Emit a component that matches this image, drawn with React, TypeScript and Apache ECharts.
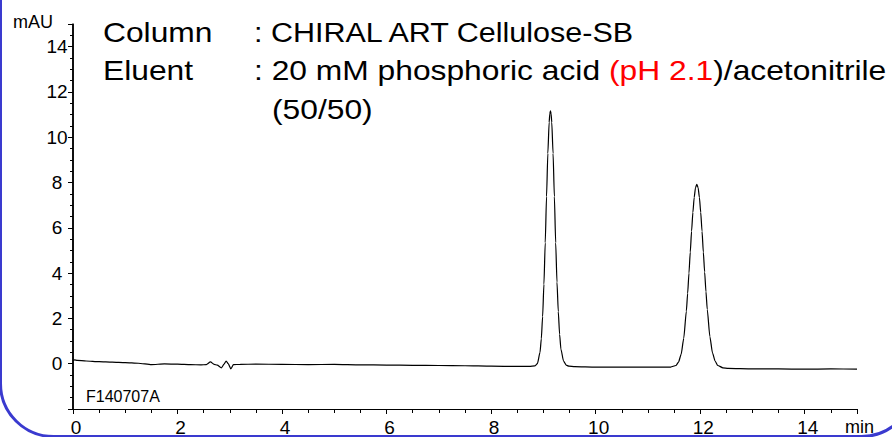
import React, { useEffect, useRef } from "react";
import * as echarts from "echarts";

// Retention time (min) and detector signal (mAU)
const traceTime: number[] = [
  0, 0.03, 0.08, 0.25, 0.5, 0.75, 1.0, 1.25, 1.5, 1.75,
  2.0, 2.25, 2.45, 2.55, 2.63, 2.7, 2.76, 2.84, 2.89, 2.93,
  2.97, 3.02, 3.07, 3.2, 3.5, 4.0, 4.5, 5.0, 5.5, 6.0,
  6.5, 7.0, 7.5, 8.0, 8.5,
  8.735, 8.835, 8.885, 8.935, 8.96, 8.985, 9.01, 9.035, 9.06, 9.085,
  9.11, 9.1225, 9.135, 9.1475, 9.16, 9.185, 9.21, 9.235, 9.26, 9.285,
  9.31, 9.335, 9.385, 9.435, 9.485, 9.6,
  10.0, 10.5, 11.0, 11.435,
  11.535, 11.585, 11.635, 11.685, 11.735, 11.76, 11.785, 11.81, 11.835, 11.86,
  11.885, 11.91, 11.935, 11.96, 11.985, 12.01, 12.035, 12.06, 12.085, 12.11,
  12.135, 12.185, 12.235, 12.285, 12.335, 12.435, 12.535,
  13.0, 13.5, 14.0, 14.5, 15.0,
];
const traceMAU: number[] = [
  0.14, 0.17, 0.15, 0.12, 0.09, 0.07, 0.05, 0.02, -0.04, -0.01,
  -0.02, -0.04, -0.05, -0.04, 0.08, -0.03, -0.06, -0.18, -0.02, 0.12,
  0.0, -0.23, -0.04, -0.03, -0.02, -0.03, -0.04, -0.03, -0.05, -0.06,
  -0.07, -0.08, -0.09, -0.11, -0.12,
  -0.12, -0.1, 0.0, 0.5, 1.1, 2.08, 3.51, 5.34, 7.38, 9.29,
  10.66, 11.03, 11.16, 11.03, 10.66, 9.29, 7.38, 5.34, 3.6, 2.3,
  1.3, 0.65, 0.12, -0.06, -0.11, -0.13,
  -0.15, -0.15, -0.15, -0.15,
  -0.08, 0.07, 0.41, 1.12, 2.32, 3.11, 4.0, 4.93, 5.85, 6.68,
  7.34, 7.77, 7.92, 7.77, 7.34, 6.68, 5.85, 4.93, 4.05, 3.18,
  2.4, 1.2, 0.48, 0.12, -0.08, -0.18, -0.21,
  -0.23, -0.23, -0.24, -0.23, -0.24,
];

const xLabelValues: number[] = [0, 2, 4, 6, 8, 10, 12, 14];
const yLabelValues: number[] = [0, 2, 4, 6, 8, 10, 12, 14];
const xRange: number[] = [0, 15];
const yRange: number[] = [-2, 15];

const FONT = "'Liberation Sans', Arial, Helvetica, sans-serif";
const BIG = 28;
const STRETCH = 1.135;

export default function App() {
  const ref = useRef<HTMLDivElement>(null);
  useEffect(() => {
    document.body.style.margin = "0";
    const chart = echarts.init(ref.current as HTMLDivElement, null, { renderer: "svg" });
    const data = traceTime.map((t, i) => [t, traceMAU[i]]);
    const bigStyle = { fontSize: BIG, fontFamily: FONT, fill: "#000" };
    chart.setOption({
      animation: false,
      backgroundColor: "#ffffff",
      grid: { left: 73, right: 35, top: 24, bottom: 26 },
      xAxis: [
        {
          type: "value", min: xRange[0], max: xRange[1], interval: 2, position: "bottom",
          axisLine: { show: true, onZero: false, lineStyle: { color: "#000", width: 1.2 } },
          axisTick: { length: 5, lineStyle: { color: "#000" } },
          axisLabel: {
            margin: 9, fontSize: 19, color: "#000", fontFamily: FONT, padding: [0, 0, 0, 6],
            formatter: (v: number) => (xLabelValues.includes(v) ? String(v) : ""),
          },
          splitLine: { show: false },
        },
        {
          type: "value", min: xRange[0], max: xRange[1], interval: 0.5, position: "bottom",
          axisLine: { show: false, onZero: false },
          axisTick: { length: 4, lineStyle: { color: "#000" } },
          axisLabel: { show: false },
          splitLine: { show: false },
        },
      ],
      yAxis: [
        {
          type: "value", min: yRange[0], max: yRange[1], interval: 2, position: "left",
          axisLine: { show: true, onZero: false, lineStyle: { color: "#000", width: 1.5 } },
          axisTick: { show: true, length: 5, lineStyle: { color: "#000" } },
          axisLabel: {
            margin: 16, align: "center", fontSize: 19, color: "#000", fontFamily: FONT,
            formatter: (v: number) => (yLabelValues.includes(v) ? String(v) : ""),
          },
          splitLine: { show: false },
        },
        {
          type: "value", min: yRange[0], max: yRange[1], interval: 0.5, position: "left",
          axisLine: { show: false, onZero: false },
          axisTick: { show: true, length: 3, lineStyle: { color: "#000" } },
          axisLabel: { show: false },
          splitLine: { show: false },
        },
      ],
      series: [
        {
          type: "line", data, xAxisIndex: 0, yAxisIndex: 0,
          symbol: "none", showSymbol: false,
          smooth: 0.2, smoothMonotone: "x",
          lineStyle: { color: "#000", width: 1.2 },
        },
      ],
      graphic: [
        {
          id: "frame", type: "rect", silent: true,
          shape: { x: 0.5, y: -120, width: 914, height: 556.5, r: 53 },
          style: { fill: "none", stroke: "#3a3acf", lineWidth: 3 },
        },
        { id: "mau", type: "text", x: 13, y: 22, style: { text: "mAU", fontSize: 18, fontFamily: FONT, fill: "#000", verticalAlign: "middle" } },
        { id: "min", type: "text", x: 845, y: 427, style: { text: "min", fontSize: 18, fontFamily: FONT, fill: "#000", verticalAlign: "middle" } },
        { id: "file", type: "text", x: 86, y: 396, style: { text: "F140707A", fontSize: 16, fontFamily: FONT, fill: "#000", verticalAlign: "middle" } },
        { id: "c1", type: "text", x: 103, y: 32, scaleX: STRETCH, style: { text: "Column", ...bigStyle, verticalAlign: "middle" } },
        { id: "c2", type: "text", x: 254, y: 32, scaleX: 1.09, style: { text: ": CHIRAL ART Cellulose-SB", ...bigStyle, verticalAlign: "middle" } },
        { id: "e1", type: "text", x: 103, y: 70, scaleX: STRETCH, style: { text: "Eluent", ...bigStyle, verticalAlign: "middle" } },
        {
          id: "e2", type: "text", x: 254, y: 70, scaleX: STRETCH,
          style: {
            text: "{k|: 20 mM phosphoric acid }{r|(pH 2.1}{k|)/acetonitrile}",
            verticalAlign: "middle",
            rich: {
              k: { fontSize: BIG, fontFamily: FONT, fill: "#000", color: "#000" },
              r: { fontSize: BIG, fontFamily: FONT, fill: "#ff0000", color: "#ff0000" },
            },
          },
        },
        { id: "e3", type: "text", x: 272, y: 109, scaleX: STRETCH, style: { text: "(50/50)", ...bigStyle, verticalAlign: "middle" } },
      ],
    });
    // y-axis line as a thin filled bar, placed through the chart's own scales, on top
    const pBottom = chart.convertToPixel({ xAxisIndex: 0, yAxisIndex: 0 }, [xRange[0], yRange[0]]) as number[];
    const pTop = chart.convertToPixel({ xAxisIndex: 0, yAxisIndex: 0 }, [xRange[0], yRange[1]]) as number[];
    if (pBottom && pTop) {
      chart.setOption({
        graphic: [
          {
            id: "yAxisBar", type: "rect", silent: true, z: 100, zlevel: 1,
            shape: { x: pBottom[0] - 0.75, y: pTop[1], width: 1.5, height: pBottom[1] - pTop[1] + 0.5 },
            style: { fill: "#000", stroke: "none" },
          },
        ],
      });
    }
    return () => chart.dispose();
  }, []);
  return <div ref={ref} style={{ width: 892, height: 437 }} />;
}
